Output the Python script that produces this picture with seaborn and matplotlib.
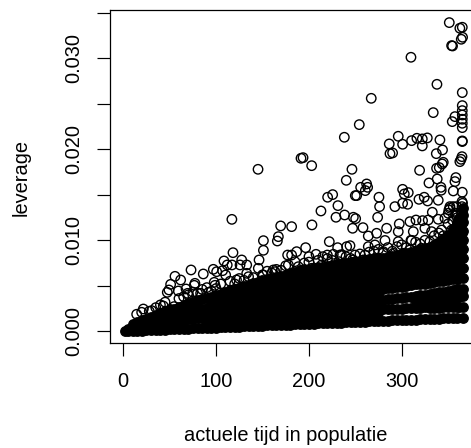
import matplotlib
matplotlib.use("Agg")
import matplotlib.pyplot as plt
import seaborn as sns

sns.set_theme(style="white")
plt.rcParams['font.family'] = ['Liberation Sans', 'DejaVu Sans']

x_label = "actuele tijd in populatie"
y_label = "leverage"
x_ticks = [0, 100, 200, 300]
y_ticks = [0.000, 0.005, 0.010, 0.015, 0.020, 0.025, 0.030, 0.035]
y_tick_labels = ["0.000", "", "0.010", "", "0.020", "", "0.030", ""]

# lowest strand of the dense band
strand_x = [2, 5, 10, 15, 20, 25, 30, 35, 40, 45, 50, 55, 60, 65, 70, 75, 80, 85, 90, 95,
            100, 105, 110, 115, 120, 125, 130, 135, 140, 145, 150, 155, 160, 165, 170, 175,
            180, 185, 190, 195, 200, 205, 210, 215, 220, 225, 230, 235, 240, 245, 250, 255,
            260, 265, 270, 275, 280, 285, 290, 295, 300, 305, 310, 315, 320, 325, 330, 335,
            340, 345, 350, 355, 360, 366]
strand_y = [.00005, .00005, .00004, .00006, .00008, .0001, .00012, .00014, .00016, .00018,
            .0002, .00023, .00025, .00027, .00029, .00031, .00033, .00035, .00037, .00039,
            .00041, .00043, .00045, .00047, .00049, .00051, .00053, .00055, .00057, .00059,
            .00062, .00064, .00066, .00068, .0007, .00072, .00074, .00076, .00078, .0008,
            .00082, .00084, .00086, .00088, .0009, .00092, .00094, .00096, .00098, .001,
            .00103, .00105, .00107, .00109, .00111, .00113, .00115, .00117, .00119, .00121,
            .00123, .00125, .00127, .00129, .00131, .00133, .00135, .00137, .00139, .00141,
            .00144, .00146, .00148, .0015]

# next strand, filled up to where the white streak starts
strand2_x = [90, 95, 100, 105, 110, 115, 120, 125, 130, 135, 140, 145, 150, 155, 160, 165, 170,
             175, 180, 185, 190, 195, 200, 205, 210, 215, 220, 225, 230, 235, 240, 245, 250,
             255, 260, 265, 270, 275]
strand2_y = [.0011, .00113, .00115, .00118, .0012, .00123, .00125, .00128, .0013, .00133, .00135,
             .00138, .0014, .00143, .00145, .00148, .0015, .00153, .00155, .00158, .0016, .00163,
             .00165, .00168, .0017, .00173, .00175, .00178, .0018, .00183, .00185, .00188, .0019,
             .00193, .00195, .00198, .002, .00203]

# dense band, read column by column
band_columns = [
    (5, [.0003]),
    (10, [.0004, .0008]),
    (15, [.0006, .001]),
    (20, [.0005, .0012]),
    (25, [.0006, .0011, .0014]),
    (30, [.0007, .0016]),
    (35, [.0008, .0013, .0018]),
    (40, [.0009, .0015, .002]),
    (45, [.001, .0016, .0022]),
    (50, [.001, .0017, .0024]),
    (55, [.0011, .0018, .0025]),
    (60, [.0012, .002, .0027]),
    (65, [.0012, .002, .0029]),
    (70, [.0013, .0022, .0031]),
    (75, [.0014, .0023, .0032]),
    (80, [.0015, .0024, .0034]),
    (85, [.0015, .0025, .0035]),
    (90, [.0016, .0026, .0037]),
    (95, [.0016, .0021, .0029, .0038]),
    (100, [.0016, .0024, .0032, .004]),
    (105, [.0017, .002, .003, .0041]),
    (110, [.0017, .0026, .0034, .0043]),
    (115, [.0017, .0022, .0031, .0039, .0045]),
    (120, [.0018, .0028, .0037, .0047]),
    (125, [.0018, .0024, .0033, .0042, .0048]),
    (130, [.0019, .0029, .0039, .005]),
    (135, [.002, .0025, .0034, .0044, .0051]),
    (140, [.002, .003, .0042, .0053]),
    (145, [.002, .0026, .0036, .0045, .0054]),
    (150, [.0021, .003, .0039, .0048, .0056]),
    (155, [.0021, .0026, .0035, .0044, .0053, .0057]),
    (160, [.0022, .0031, .004, .005, .0059]),
    (165, [.0022, .0027, .0036, .0045, .0054, .006]),
    (170, [.0022, .0032, .0042, .0052, .0061]),
    (175, [.0023, .0028, .0037, .0047, .0057, .0062]),
    (180, [.0023, .0033, .0043, .0054, .0064]),
    (185, [.0023, .0028, .0038, .0047, .0055, .0065]),
    (190, [.0024, .0033, .0042, .0051, .0059, .0067]),
    (195, [.0024, .0029, .0037, .0046, .0055, .0064, .0068]),
    (200, [.0024, .0033, .0042, .0051, .006, .0069]),
    (205, [.0024, .0029, .0038, .0047, .0056, .0065, .007]),
    (210, [.0025, .0034, .0043, .0052, .0062, .0071]),
    (215, [.0025, .003, .0039, .0048, .0057, .0067, .0071]),
    (220, [.0025, .0034, .0044, .0053, .0063, .0072]),
    (225, [.0025, .003, .0039, .0049, .0058, .0068, .0073]),
    (230, [.0026, .0035, .0044, .0054, .0064, .0074]),
    (235, [.0026, .0031, .004, .005, .0059, .0069, .0074]),
    (240, [.0026, .0035, .0045, .0055, .0065, .0075]),
    (245, [.0026, .0031, .004, .005, .006, .007, .0076]),
    (250, [.0027, .0036, .0046, .0056, .0066, .0077]),
    (255, [.0027, .0032, .0041, .0051, .0061, .0071, .0077]),
    (260, [.0027, .0037, .0047, .0057, .0067, .0078]),
    (265, [.0027, .0032, .0042, .0052, .0062, .0072, .0079]),
    (270, [.0027, .0036, .0046, .0056, .0066, .0073, .008]),
    (275, [.0027, .0032, .0041, .0051, .0061, .0069, .0076, .008]),
    (280, [.0024, .0034, .0047, .0056, .0065, .0073, .0081]),
    (285, [.00245, .0035, .00475, .0052, .0061, .007, .0079, .0082]),
    (290, [.0025, .0036, .0048, .0057, .0066, .0075, .0083]),
    (295, [.0025, .00365, .00485, .0053, .0062, .0071, .008, .0084]),
    (300, [.0025, .0037, .0049, .0058, .0067, .0076, .0085]),
    (305, [.00255, .00375, .005, .0055, .0064, .0073, .0082, .0086]),
    (310, [.0026, .0038, .0051, .006, .0069, .0078, .0087]),
    (315, [.0026, .0033, .0039, .00515, .0056, .0066, .0076, .0085, .0088]),
    (320, [.0026, .0034, .004, .0052, .0061, .0071, .0081, .009]),
    (325, [.00265, .0034, .004, .00525, .0058, .0068, .0078, .0087, .0091]),
    (330, [.0026, .0035, .0041, .0053, .0063, .0073, .0083, .0093]),
    (335, [.0026, .0035, .0042, .0054, .0059, .0069, .0079, .0089, .0095]),
    (340, [.0026, .0036, .0043, .0055, .0065, .0076, .0086, .0097]),
    (345, [.0027, .0036, .00435, .00555, .006, .0071, .0081, .0091, .0101]),
    (350, [.0027, .0037, .0044, .0056, .0066, .0076, .0086, .0096, .0106]),
    (355, [.0027, .0037, .0045, .0057, .0062, .0073, .0083, .0093, .0103, .0112]),
    (360, [.0027, .0038, .0046, .0058, .0068, .0078, .0089, .0099, .011, .012]),
    (362, [.0027, .0038, .0046, .0059, .0065, .0075, .0085, .0095, .0105, .0115, .0125]),
    (366, [.0027, .0039, .0047, .0059, .007, .008, .009, .01, .011, .012, .0128, .0135]),
]

# hollow circles outside the dense band
ring_x = [351.3, 362.7, 365.3, 364.2, 365.6, 353.8, 354.8, 310, 338, 365.3, 267.2, 365.3, 365.3,
          365.3, 365.3, 365.3, 365.3, 357.4, 354.5, 334, 254.3, 238.2, 296.3, 286.6, 301, 287.4,
          290.2, 310.7, 316.4, 322.2, 327.6, 322.2, 341.2, 344, 337.3, 365.3, 365.3, 344.8, 343.7,
          337.6, 340.5, 365, 364, 362.7, 145.2, 191.5, 193.7, 203, 246.4, 240.3, 319.3, 329.4,
          338.3, 358.4, 357.4, 342.3, 342.6, 355.6, 365.3, 262.2, 255.8, 263.3, 260.8, 251.5, 250,
          225.6, 220.2, 231.3, 213, 229.2, 238.5, 247.9, 250.4, 275.5, 276.2, 274.1, 301, 302.8,
          307.1, 292.7, 301, 306.4, 318.6, 324.3, 327.9, 339.4, 333, 365, 365, 364.5, 352, 355.6,
          350.2, 359.2, 203.3, 169.6, 181.4, 297.4, 308.9, 315.4, 322.5, 328.6, 339.4,
          117, 118.2, 108.5, 117.1, 112, 110.3, 107, 73, 55.7, 61.8, 51, 49.2, 47.4, 59.3, 67.6,
          69.3, 77.2, 76.5, 86.2, 97, 100.6, 98, 98.8, 21.6, 30.6, 43.1, 54.6, 83.3, 92, 122,
          19.8, 14.4,
          247.1, 258.3, 264, 167.1, 166, 151, 151, 146.3, 133, 127.6, 125.8, 222, 196.5, 207.7,
          200.1, 186.8, 181.4, 177.1, 177.9, 185, 188.6, 203, 213.8, 213.8, 219.9, 231, 240.7,
          244.3, 226.3, 233.5, 231, 232.4, 228.8, 249.7, 260.4, 247.1, 253.2, 264, 258.6, 145.5,
          133, 163.5, 151, 161.7,
          352, 350.9, 359.2, 365.6, 365.6, 365.6, 365.6, 346.6, 283.8, 273, 296.3, 312.5, 325,
          332.2, 343, 353.8, 282, 310.7, 296.3, 330.4, 339.4, 271.2, 291, 280.2, 269.4, 280.2,
          308.9, 321.4, 301.7,
          35, 45, 40, 28, 60, 70, 65, 75, 85, 80, 90, 105, 100, 115, 125, 130, 135, 140, 155, 160,
          165, 170, 175, 195, 200, 210, 220, 215, 240, 235, 255, 265, 270, 275, 285, 290, 300, 305,
          315, 320, 325, 335, 340, 345, 350, 355, 358, 360, 345, 310, 280, 295, 245, 225, 150, 120, 95]
ring_y = [.03392, .0333, .03341, .03209, .03231, .03139, .03135, .03011, .02714, .02623, .0256, .0248, .02425,
          .02377, .0233, .02286, .02238, .02359, .02304, .02403, .02271, .02132, .02143, .02059, .02055, .01952,
          .0196, .02095, .02121, .02114, .02125, .02037, .02103, .01993, .01952, .02092, .02085, .01857, .01839,
          .01791, .01799, .01919, .0189, .01864, .0178, .01901, .01908, .0182, .0178, .01659, .01769, .0163,
          .01674, .01689, .01645, .01582, .0155, .01542, .01528, .01619, .01582, .01582, .01546, .01491, .01491,
          .01502, .01473, .01381, .01322, .01253, .01278, .01253, .01238, .01473, .0137, .01253, .0156, .01509,
          .01524, .0137, .01407, .01396, .0145, .01473, .01432, .0144, .01308, .01425, .0137, .01297, .01352, .0137,
          .01297, .01297, .01169, .01158, .0115, .0118, .01205, .01223, .01216, .01223, .01231,
          .0123, .00864, .00773, .00729, .00729, .00619, .00666, .00674, .00604, .00564, .00516, .00454, .00428, .00443, .00465,
          .00417, .00527, .00505, .0063, .00681, .00655, .00538, .00505, .00245, .00227, .00278, .00271, .00417, .00428, .00564,
          .00209, .00187,
          .01132, .01139, .01047, .0104, .00992, .00996, .0089, .00784, .00729, .00784, .00729, .00985, .00919, .00846,
          .0082, .00875, .00838, .00838, .00729, .00765, .0071, .00692, .00729, .00637, .00838, .00919, .0093,
          .00941, .00846, .00838, .00729, .00765, .00699, .00838, .00838, .00784, .00747, .0093, .00784, .00692,
          .00637, .00655, .00619, .00674,
          .0137, .01333, .0137, .01406, .01297, .01187, .01077, .01242, .01132, .01077, .01095, .01095, .01132,
          .01095, .01113, .01113, .00998, .00998, .00985, .00985, .00967, .00949, .00857, .00875, .00784, .00766,
          .00894, .00912, .00857,
          .0026, .0032, .0029, .0022, .0036, .004, .0038, .0043, .0046, .0042, .0048, .0052, .0047, .0055, .0058, .0056,
          .006, .0059, .0066, .0064, .0068, .0067, .0072, .0075, .0076, .0078, .008, .0082, .0082, .0084, .0085, .0087,
          .0088, .009, .0092, .0088, .0095, .0092, .0098, .0096, .01, .0105, .0108, .0105, .0118, .0122, .0128, .0125,
          .01, .01, .0086, .0093, .008, .0078, .0062, .0052, .0044]

band_x = [x for x, ys in band_columns for _ in ys]
band_y = [y for _, ys in band_columns for y in ys]

fig = plt.figure(figsize=(4.71, 4.48), dpi=100, facecolor="white")
ax = fig.add_axes([110 / 471, (448 - 343) / 448, 370 / 471, (343 - 10.5) / 448])

size = 46
lw = 1.0
sns.scatterplot(x=band_x, y=band_y, ax=ax, s=size, color="black", edgecolor="black", linewidth=lw, legend=False)
sns.scatterplot(x=strand_x, y=strand_y, ax=ax, s=size, color="black", edgecolor="black", linewidth=lw, legend=False)
sns.scatterplot(x=strand2_x, y=strand2_y, ax=ax, s=size, color="black", edgecolor="black", linewidth=lw, legend=False)
sns.scatterplot(x=ring_x, y=ring_y, ax=ax, s=size, facecolor="none", edgecolor="black", linewidth=lw, legend=False)

ax.set_xlim(-14.33, 384.4)
ax.set_ylim(-0.001286, 0.03525)
ax.set_xticks(x_ticks)
ax.set_yticks(y_ticks)
ax.set_yticklabels(y_tick_labels, rotation=90, va="center")
ax.tick_params(axis="both", length=9.6, width=0.85, color="black", labelsize=14.4, labelcolor="black", bottom=True, left=True)
ax.tick_params(axis="x", pad=11.5)
ax.tick_params(axis="y", pad=10)
for spine in ax.spines.values():
    spine.set_color("black")
    spine.set_linewidth(0.9)
ax.set_xlabel("")
ax.set_ylabel("")
fig.text(286 / 471, 1 - 435 / 448, x_label, ha="center", va="center", fontsize=14.4, color="black")
fig.text(21 / 471, 1 - 177 / 448, y_label, ha="center", va="center", rotation=90, fontsize=14.4, color="black")
fig.savefig("out.png", dpi=100)
